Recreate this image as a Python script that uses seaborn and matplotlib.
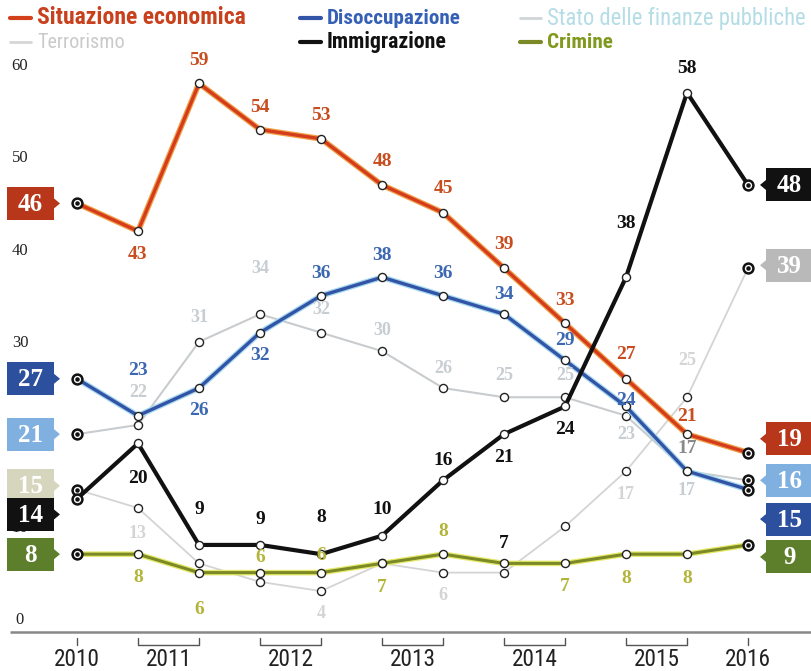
import numpy as np
import pandas as pd
import matplotlib
matplotlib.use("Agg")
import matplotlib.pyplot as plt
import matplotlib.patheffects as pe
from matplotlib.lines import Line2D
from matplotlib.patches import Rectangle, Polygon
from matplotlib import font_manager as fm
import seaborn as sns

# ---------------- data ----------------
periods = ["2010", "2011a", "2011b", "2012a", "2012b", "2013a", "2013b",
           "2014a", "2014b", "2015a", "2015b", "2016"]
year_labels = ["2010", "2011", "2012", "2013", "2014", "2015", "2016"]

situazione = [46, 43, 59, 54, 53, 48, 45, 39, 33, 27, 21, 19]
disoccupazione = [27, 23, 26, 32, 36, 38, 36, 34, 29, 24, 17, 15]
finanze = [21, 22, 31, 34, 32, 30, 26, 25, 25, 23, 17, 16]
terrorismo = [15, 13, 7, 5, 4, 7, 6, 6, 11, 17, 25, 39]
immigrazione = [14, 20, 9, 9, 8, 10, 16, 21, 24, 38, 58, 48]
crimine = [8, 8, 6, 6, 6, 7, 8, 7, 7, 8, 8, 9]

series_names = ["Situazione economica", "Disoccupazione",
                "Stato delle finanze pubbliche", "Terrorismo",
                "Immigrazione", "Crimine"]
y_ticks = [0, 10, 30, 40, 50, 60]

rows = []
for name, vals in zip(series_names, [situazione, disoccupazione, finanze,
                                     terrorismo, immigrazione, crimine]):
    for i, v in enumerate(vals):
        rows.append({"serie": name, "idx": i, "valore": v})
df = pd.DataFrame(rows)

# ---------------- fonts ----------------
sns.set_theme(style="white")
plt.rcParams["font.family"] = ["DejaVu Sans"]

available = {f.name for f in fm.fontManager.ttflist}
narrow_family = None
for cand in ["Liberation Sans Narrow", "Roboto Condensed", "Noto Sans Condensed",
             "Open Sans Condensed", "DejaVu Sans Condensed", "Noto Sans SemiCondensed"]:
    if cand in available:
        narrow_family = cand
        break
narrow_stretch = "normal"
if narrow_family is None:
    for f in fm.fontManager.ttflist:
        if str(f.stretch) in ("condensed", "semi-condensed", "75", "87.5") and \
                f.name in ("Noto Sans", "DejaVu Sans", "Open Sans", "Roboto"):
            narrow_family = f.name
            narrow_stretch = "condensed"
            break
if narrow_family is None:
    narrow_family = "Liberation Sans"
NARROW = [narrow_family, "DejaVu Sans"]
SERIF = ["Liberation Serif", "DejaVu Serif"]

# ---------------- geometry ----------------
W, H = 811, 671
PX_X = 61.0      # px per index step
X0 = 77.0        # pixel of idx 0
PX_Y = 9.23      # px per unit
Y0 = 628.0       # pixel of value 0

fig = plt.figure(figsize=(W / 100, H / 100), dpi=100)
ax = fig.add_axes([0, 0, 1, 1])
ax.set_xlim(-X0 / PX_X, (W - X0) / PX_X)
ax.set_ylim((Y0 - H) / PX_Y, Y0 / PX_Y)
ax.axis("off")
renderer = fig.canvas.get_renderer()

def dx(px):
    return px / PX_X

def dy(px):
    return px / PX_Y

def px2x(px):
    return (px - X0) / PX_X

def fit_size(text, target_w, base=15, weight="normal"):
    t = fig.text(0, 0, text, fontsize=base, family=NARROW, fontweight=weight,
                 fontstretch=narrow_stretch)
    w = t.get_window_extent(renderer).width
    t.remove()
    return base * target_w / max(w, 1)

style = {
    "Situazione economica": dict(color="#d43c1c", lw=2.4, halo="#f0a048", z=6,
                                 txt="#c84d1f", box="#b8361a", faded=False),
    "Disoccupazione": dict(color="#3353a6", lw=2.4, halo="#a4d8ee", z=5,
                           txt="#3c68b2", box="#2c4f9e", faded=False),
    "Stato delle finanze pubbliche": dict(color="#c8cccf", lw=1.5, halo=None, z=3,
                                          txt="#c8cdd2", box="#80b0e0", faded=True),
    "Terrorismo": dict(color="#d4d4d4", lw=1.3, halo=None, z=2,
                       txt="#d4d4d4", box="#d6d6be", faded=True),
    "Immigrazione": dict(color="#111111", lw=3.0, halo=None, z=7,
                         txt="#111111", box="#111111", faded=False),
    "Crimine": dict(color="#7b8a26", lw=2.2, halo="#e6e86a", z=4,
                    txt="#b3b53a", box="#5d7e2b", faded=False),
}

# ---------------- lines ----------------
for name in series_names:
    st = style[name]
    sub = df[df["serie"] == name]
    effects = None
    if st["halo"]:
        effects = [pe.Stroke(linewidth=st["lw"] + 1.8, foreground=st["halo"]), pe.Normal()]
    sns.lineplot(data=sub, x="idx", y="valore", ax=ax, color=st["color"],
                 lw=st["lw"], zorder=st["z"], legend=False,
                 path_effects=effects)
    inner = sub[(sub["idx"] > 0) & (sub["idx"] < len(periods) - 1)]
    ax.scatter(inner["idx"], inner["valore"], s=34, facecolor="white",
               edgecolor="#222222", linewidth=1.0, zorder=st["z"] + 0.5)
    ends = sub[(sub["idx"] == 0) | (sub["idx"] == len(periods) - 1)]
    ax.scatter(ends["idx"], ends["valore"], s=50, facecolor="white",
               edgecolor="#111111", linewidth=1.8, zorder=st["z"] + 0.5)
    ax.scatter(ends["idx"], ends["valore"], s=5, color="#111111",
               zorder=st["z"] + 0.6)

# ---------------- point labels ----------------
offsets = {
    "Situazione economica": [None, -23, 23, 22, 23, 23, 24, 24, 23, 24, 18, None],
    "Disoccupazione": [None, 45, -22, -23, 22, 22, 22, 20, 20, 6, 23, None],
    "Stato delle finanze pubbliche": [None, 32, 24, 46, 23, 21, 20, 22, 22, -19, -19, None],
    "Terrorismo": [None, -25, None, None, -22, None, -23, None, None, -23, 37, None],
    "Immigrazione": [None, -35, 35, 25, 37, 26, 20, -23, -23, 54, 24, None],
    "Crimine": [None, -23, -37, 15, 17, -24, 23, 20, -23, -24, -24, None],
}
for name in series_names:
    st = style[name]
    vals = df[df["serie"] == name]["valore"].tolist()
    for i, (v, off) in enumerate(zip(vals, offsets[name])):
        if off is None:
            continue
        col = st["txt"]
        if name == "Crimine" and i == 7:
            col = "#111111"
        if name == "Disoccupazione" and i == 10:
            col = "#8a8a8a"
        ax.text(i, v + dy(off), str(v), ha="center", va="center",
                fontsize=14 if not st["faded"] else 13, fontweight="bold",
                family=SERIF, color=col, zorder=12)

# ---------------- end boxes ----------------
left_adj = {"Terrorismo": 0.4, "Immigrazione": -1.7}
right_adj = {"Situazione economica": 1.5, "Disoccupazione": -3.2, "Crimine": -1.3,
             "Terrorismo": 0.3}
right_box_col = {"Terrorismo": "#b9b9b9"}
BW, BH = 47, 33

def draw_box(x_left_px, yc, text, fc, side):
    x0 = px2x(x_left_px)
    ax.add_patch(Rectangle((x0, yc - dy(BH / 2)), dx(BW), dy(BH), fc=fc,
                           ec="none", zorder=20))
    if side == "left":
        xe = x0 + dx(BW)
        tri = [(xe, yc + dy(5)), (xe + dx(6), yc), (xe, yc - dy(5))]
    else:
        tri = [(x0, yc + dy(5)), (x0 - dx(6), yc), (x0, yc - dy(5))]
    ax.add_patch(Polygon(tri, closed=True, fc=fc, ec="none", zorder=20))
    ax.text(x0 + dx(BW / 2), yc - dy(1), text, ha="center", va="center",
            fontsize=18, fontweight="bold", family=SERIF, color="white",
            zorder=21)

for name in series_names:
    st = style[name]
    vals = df[df["serie"] == name]["valore"].tolist()
    draw_box(7, vals[0] + left_adj.get(name, 0), str(vals[0]), st["box"], "left")
    draw_box(766, vals[-1] + right_adj.get(name, 0), str(vals[-1]),
             right_box_col.get(name, st["box"]), "right")

# ---------------- y tick labels ----------------
for v in y_ticks:
    ax.text(px2x(20), v + dy(8), str(v), ha="center", va="center",
            fontsize=12, family=SERIF, color="#222222", zorder=1)

# ---------------- x axis ----------------
base = -dy(4)
ax.plot([px2x(10), px2x(811)], [base, base], color="#888888", lw=1.8,
        zorder=1, solid_capstyle="butt")
t_top, t_bot = -dy(10), -dy(17)
year_x = [0, 1.5, 3.5, 5.5, 7.5, 9.5, 11]
year_fs = min(fit_size("2010", 46), 20)
for k, (lab, xc) in enumerate(zip(year_labels, year_x)):
    if k == 0 or k == len(year_labels) - 1:
        ax.plot([xc, xc], [t_top, t_bot], color="#555555", lw=1.0)
    else:
        a, b = 2 * k - 1, 2 * k
        ax.plot([a, a, b, b], [t_top, t_bot, t_bot, t_top], color="#555555", lw=1.0)
    ax.text(xc, -dy(32), lab, ha="center", va="center", fontsize=year_fs,
            family=NARROW, fontstretch=narrow_stretch, color="#222222")

# ---------------- legend ----------------
legend_items = [
    ("Situazione economica", 10, 18, "#d2401c", "#c8401c", "bold", 214),
    ("Disoccupazione", 300, 18, "#3353a6", "#3560b5", "bold", 134),
    ("Stato delle finanze pubbliche", 520, 18, "#cfd6d8", "#b4dde6", "normal", 258),
    ("Terrorismo", 10, 42, "#d6d6d6", "#cacaca", "normal", 88),
    ("Immigrazione", 300, 42, "#111111", "#111111", "bold", 120),
    ("Crimine", 520, 42, "#7b8a26", "#7f9a1e", "bold", 66),
]
for lab, x, y, lc, tc, wt, tw in legend_items:
    fs = min(fit_size(lab, tw, weight=wt), 17)
    fig.add_artist(Line2D([x / W, (x + 21) / W], [1 - y / H, 1 - y / H],
                          color=lc, lw=3 if wt == "bold" else 2))
    fig.text((x + 27) / W, 1 - y / H, lab, ha="left", va="center",
             fontsize=fs, fontweight=wt, family=NARROW,
             fontstretch=narrow_stretch, color=tc)

fig.savefig("out.png", dpi=100)
